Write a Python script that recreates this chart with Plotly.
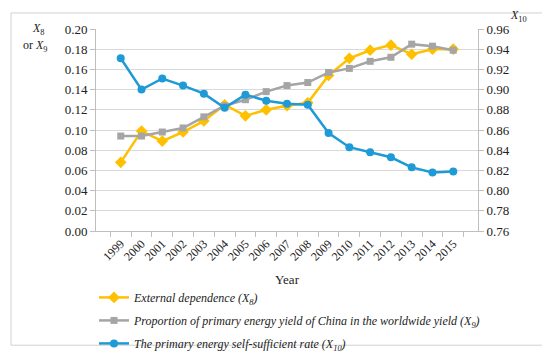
import plotly.graph_objects as go

years = [str(y) for y in range(1999, 2016)]
external_dependence = [0.068, 0.099, 0.089, 0.098, 0.109, 0.125, 0.114, 0.120, 0.124, 0.127,
                       0.154, 0.171, 0.179, 0.184, 0.175, 0.180, 0.180]
proportion_yield = [0.094, 0.094, 0.098, 0.102, 0.113, 0.124, 0.130, 0.138, 0.144, 0.147,
                    0.157, 0.161, 0.168, 0.172, 0.185, 0.183, 0.179]
self_sufficient = [0.931, 0.900, 0.911, 0.904, 0.896, 0.882, 0.895, 0.889, 0.886, 0.885,
                   0.857, 0.843, 0.838, 0.833, 0.823, 0.818, 0.819]

names = ["<i>External dependence (X<sub>8</sub>)</i>",
         "<i>Proportion of primary energy yield of China in the worldwide yield (X<sub>9</sub>)</i>",
         "<i>The primary energy self-sufficient rate (X<sub>10</sub>)</i>"]

FONT = "Liberation Serif"
yellow, gray, blue = "#FFC000", "#A5A5A5", "#1E9AD6"

fig = go.Figure()
fig.add_trace(go.Scatter(x=years, y=external_dependence, name=names[0], mode="lines+markers",
                         line=dict(color=yellow, width=2.5), marker=dict(symbol="diamond", size=9, color=yellow),
                         legendgroup="a"))
fig.add_trace(go.Scatter(x=years, y=proportion_yield, name=names[1], mode="lines+markers",
                         line=dict(color=gray, width=2.5), marker=dict(symbol="square", size=7, color=gray),
                         legendgroup="b"))
fig.add_trace(go.Scatter(x=years, y=self_sufficient, name=names[2], mode="lines+markers",
                         line=dict(color=blue, width=2.5), marker=dict(symbol="circle", size=8, color=blue),
                         legendgroup="c", yaxis="y2"))

L, R, T, B = 88, 80, 21, 127
W, H = 550, 362
pw, ph = W - L - R, H - T - B

def px(x):
    return (x - L) / pw

def py(y):
    return (H - B - y) / ph

fig.update_layout(
    width=W, height=H,
    margin=dict(l=L, r=R, t=T, b=B),
    paper_bgcolor="white", plot_bgcolor="white",
    font=dict(family=FONT, size=12, color="#222222"),
    showlegend=True,
    legend=dict(x=px(86), y=py(290), xanchor="left", yanchor="top", orientation="v",
                font=dict(family=FONT, size=12, color="#222222"), tracegroupgap=4,
                bgcolor="rgba(0,0,0,0)", itemwidth=30),
    xaxis=dict(type="category", tickangle=-45, ticks="outside", tickson="boundaries", ticklen=5,
               tickcolor="#BFBFBF", showline=True, linecolor="#BFBFBF", linewidth=1,
               showgrid=False, tickfont=dict(family=FONT, size=12),
               title=dict(text="Year", font=dict(family=FONT, size=13), standoff=12)),
    yaxis=dict(range=[0, 0.20], dtick=0.02, tickformat=".2f", showgrid=True, gridcolor="#D9D9D9",
               gridwidth=1, zeroline=False, showline=True, linecolor="#BFBFBF", ticks="outside",
               ticklen=5, tickcolor="#BFBFBF", tickfont=dict(family=FONT, size=13)),
    yaxis2=dict(range=[0.76, 0.96], dtick=0.02, tickformat=".2f", overlaying="y", side="right",
                showgrid=False, zeroline=False, showline=True, linecolor="#BFBFBF", ticks="outside",
                ticklen=5, tickcolor="#BFBFBF", tickfont=dict(family=FONT, size=13)),
    annotations=[
        dict(text="<i>X</i><sub>8</sub>", x=px(30), y=py(21), xref="paper", yref="paper",
             showarrow=False, font=dict(family=FONT, size=12), xanchor="center", yanchor="middle"),
        dict(text="or <i>X</i><sub>9</sub>", x=px(27), y=py(39), xref="paper", yref="paper",
             showarrow=False, font=dict(family=FONT, size=12), xanchor="center", yanchor="middle"),
        dict(text="<i>X</i><sub>10</sub>", x=px(510), y=py(7), xref="paper", yref="paper",
             showarrow=False, font=dict(family=FONT, size=12), xanchor="center", yanchor="middle"),
    ],
    shapes=[dict(type="rect", xref="paper", yref="paper", x0=px(3), x1=px(545), y0=py(356), y1=py(4),
                 line=dict(color="#D0D0D0", width=1), fillcolor="rgba(0,0,0,0)", layer="below")],
)

fig.write_html("out.html")
